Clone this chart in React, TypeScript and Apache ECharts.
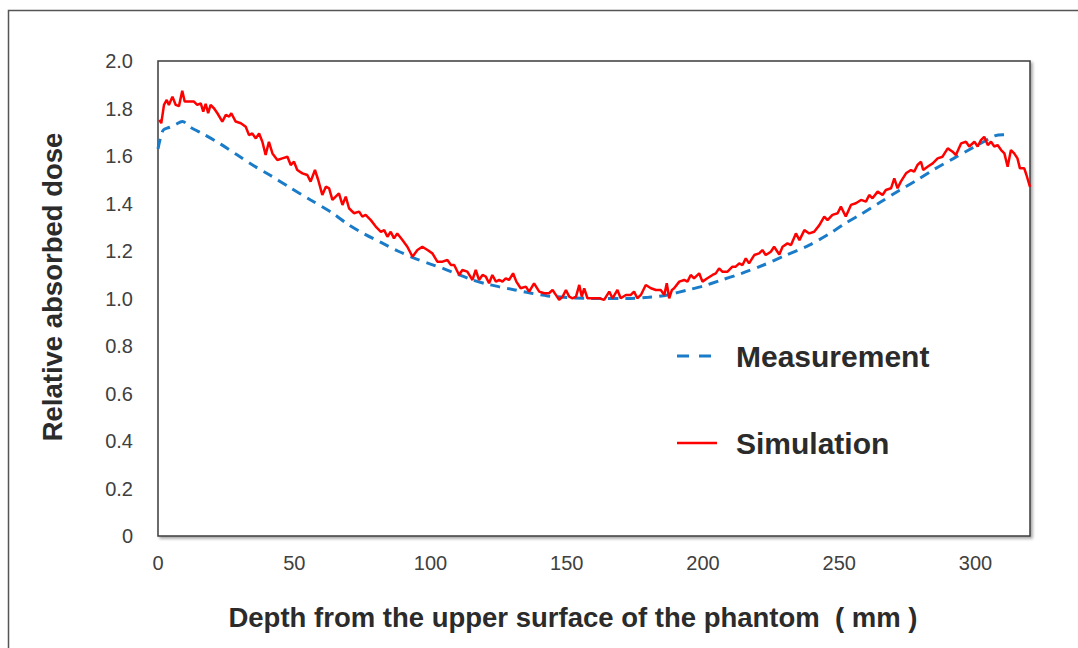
import React, { useEffect, useRef } from "react";
import * as echarts from "echarts";

// Depth (mm) and relative dose for the measured profile
const measDepth = [0, 1, 2, 4, 6, 9, 12, 17, 23, 29, 35, 41, 48, 56, 64, 70, 76, 82, 88, 94, 100, 105, 110, 115, 120, 125, 131, 137, 143, 150, 156, 163, 172, 180, 187, 194, 200, 206, 214, 222, 230, 239, 246, 252, 258, 265, 272, 278, 285, 292, 299, 303, 307, 310, 313];
const measDose = [1.63, 1.68, 1.71, 1.72, 1.73, 1.745, 1.72, 1.69, 1.65, 1.605, 1.56, 1.52, 1.47, 1.415, 1.36, 1.31, 1.27, 1.235, 1.2, 1.17, 1.145, 1.125, 1.102, 1.08, 1.063, 1.05, 1.036, 1.022, 1.011, 1.004, 1.001, 1.0, 1.0, 1.005, 1.015, 1.035, 1.052, 1.075, 1.105, 1.14, 1.18, 1.225, 1.27, 1.315, 1.355, 1.405, 1.455, 1.495, 1.545, 1.59, 1.635, 1.66, 1.685, 1.69, 1.69];

// Depth (mm) and relative dose for the simulated profile
const simDepth = [0.5, 1.2, 2.2, 3.2, 4.0, 5.3, 6.5, 7.7, 8.9, 9.8, 11.4, 13.2, 14.4, 15.7, 16.6, 17.5, 18.4, 19.3, 20.6, 21.8, 23.6, 24.9, 26.1, 26.9, 28.5, 30.4, 32.2, 33.4, 34.6, 35.9, 37.1, 38.3, 39.5, 40.7, 42.0, 43.8, 45.6, 47.5, 48.7, 49.9, 51.1, 53.0, 54.8, 56.0, 57.6, 58.8, 60.3, 61.6, 62.8, 64.0, 65.2, 66.4, 67.7, 68.9, 70.1, 71.9, 73.8, 75.0, 76.2, 78.1, 79.9, 81.8, 83.0, 84.2, 85.4, 86.6, 87.8, 89.7, 91.5, 93.4, 95.2, 97.0, 98.9, 100.7, 102.5, 104.4, 106.2, 107.5, 108.7, 110.5, 111.7, 113.5, 115.4, 116.6, 117.8, 119.1, 120.3, 121.5, 122.7, 124.0, 125.2, 126.4, 127.6, 128.8, 130.3, 131.5, 133.1, 135.0, 136.2, 138.0, 139.9, 141.7, 143.5, 144.8, 146.0, 147.2, 148.5, 149.7, 150.9, 152.1, 153.4, 154.6, 155.5, 156.4, 157.6, 159.4, 161.9, 163.7, 165.6, 166.8, 168.6, 169.8, 171.7, 173.5, 174.7, 175.9, 177.2, 179.0, 180.9, 182.7, 184.5, 185.8, 186.7, 187.6, 188.6, 189.4, 191.3, 193.1, 194.3, 195.5, 196.7, 198.6, 199.8, 201.6, 203.5, 204.7, 205.9, 207.1, 209.0, 210.8, 212.0, 213.3, 214.5, 215.7, 216.9, 218.8, 220.6, 221.8, 223.0, 224.9, 226.1, 228.0, 229.2, 231.0, 232.3, 234.1, 235.4, 237.2, 239.0, 240.8, 242.7, 244.5, 245.7, 247.5, 249.4, 250.6, 252.4, 254.3, 256.1, 258.0, 259.8, 261.0, 262.2, 264.1, 265.9, 267.1, 269.0, 270.2, 271.4, 272.6, 274.5, 276.3, 277.5, 278.7, 280.0, 280.8, 282.4, 284.3, 286.1, 287.9, 289.8, 291.6, 292.8, 294.7, 296.5, 297.7, 299.6, 300.8, 302.0, 303.2, 304.5, 305.7, 306.9, 308.1, 309.4, 310.6, 311.8, 313.0, 314.2, 315.4, 316.3, 317.9, 318.7, 320.0];
const simDose = [1.752, 1.738, 1.815, 1.836, 1.815, 1.85, 1.815, 1.81, 1.875, 1.829, 1.829, 1.829, 1.815, 1.822, 1.787, 1.82, 1.78, 1.815, 1.8, 1.78, 1.745, 1.773, 1.766, 1.78, 1.745, 1.738, 1.723, 1.688, 1.695, 1.674, 1.695, 1.66, 1.604, 1.66, 1.611, 1.583, 1.59, 1.597, 1.562, 1.576, 1.541, 1.527, 1.52, 1.492, 1.541, 1.499, 1.436, 1.471, 1.464, 1.415, 1.429, 1.443, 1.394, 1.429, 1.38, 1.359, 1.366, 1.345, 1.352, 1.33, 1.303, 1.281, 1.288, 1.26, 1.281, 1.253, 1.274, 1.246, 1.218, 1.176, 1.204, 1.218, 1.204, 1.19, 1.155, 1.155, 1.162, 1.141, 1.141, 1.099, 1.12, 1.113, 1.078, 1.12, 1.078, 1.099, 1.092, 1.064, 1.099, 1.071, 1.078, 1.071, 1.085, 1.078, 1.106, 1.071, 1.043, 1.05, 1.029, 1.064, 1.029, 1.022, 1.022, 1.036, 1.015, 0.994, 1.008, 1.036, 1.008, 1.001, 1.008, 1.057, 1.008, 1.043, 1.001, 1.001, 1.001, 0.994, 1.029, 1.001, 1.036, 1.001, 1.015, 1.015, 1.029, 1.001, 1.015, 1.057, 1.043, 1.036, 1.036, 1.015, 1.064, 1.001, 1.036, 1.043, 1.071, 1.078, 1.071, 1.099, 1.085, 1.106, 1.071, 1.085, 1.099, 1.106, 1.127, 1.113, 1.113, 1.134, 1.134, 1.148, 1.141, 1.169, 1.148, 1.183, 1.19, 1.204, 1.183, 1.197, 1.218, 1.185, 1.218, 1.232, 1.225, 1.274, 1.246, 1.288, 1.274, 1.281, 1.309, 1.345, 1.33, 1.352, 1.359, 1.387, 1.345, 1.394, 1.401, 1.415, 1.408, 1.436, 1.422, 1.45, 1.436, 1.457, 1.464, 1.506, 1.464, 1.492, 1.527, 1.541, 1.534, 1.562, 1.576, 1.541, 1.555, 1.569, 1.59, 1.597, 1.632, 1.618, 1.604, 1.653, 1.66, 1.64, 1.66, 1.64, 1.667, 1.681, 1.646, 1.66, 1.64, 1.646, 1.625, 1.611, 1.555, 1.625, 1.611, 1.59, 1.548, 1.548, 1.52, 1.47];

const seriesNames = ["Measurement", "Simulation"];
const xTitle = "Depth from the upper surface of the phantom  ( mm )";
const yTitle = "Relative absorbed dose";

const FONT = '"Liberation Sans", Arial, sans-serif';
const BLUE = "#1a7cc8";
const RED = "#ff0000";
const TITLE_COLOR = "#2b2b2b";

function pairs(xs: number[], ys: number[]) {
  return xs.map((x, i) => [x, ys[i]]);
}

export default function App() {
  const ref = useRef<HTMLDivElement>(null);

  useEffect(() => {
    if (!ref.current) return;
    const chart = echarts.init(ref.current, null, { renderer: "svg" });

    const legendText = (name: string, y: number) => ({
      type: "text",
      x: 736,
      y,
      style: {
        text: name,
        fontSize: 30,
        fontWeight: "bold",
        fontFamily: FONT,
        fill: TITLE_COLOR,
        align: "left",
        verticalAlign: "middle",
      },
    });

    chart.setOption({
      animation: false,
      backgroundColor: "#ffffff",
      grid: {
        left: 158,
        top: 61,
        right: 48,
        bottom: 112,
        show: true,
        backgroundColor: "#ffffff",
        borderColor: "#3c3c3c",
        borderWidth: 1.5,
        shadowColor: "rgba(0,0,0,0.35)",
        shadowBlur: 3,
        shadowOffsetX: 2,
        shadowOffsetY: 2,
      },
      xAxis: {
        type: "value",
        min: 0,
        max: 320,
        interval: 50,
        axisLine: { show: false },
        axisTick: { show: false },
        splitLine: { show: false },
        axisLabel: {
          showMaxLabel: false,
          margin: 17,
          fontSize: 20,
          color: "#404040",
          fontFamily: FONT,
        },
      },
      yAxis: {
        type: "value",
        min: 0,
        max: 2,
        interval: 0.2,
        axisLine: { show: false },
        axisTick: { show: false },
        splitLine: { show: false },
        axisLabel: {
          margin: 25,
          fontSize: 20,
          color: "#404040",
          fontFamily: FONT,
          formatter: (v: number) => (v === 0 ? "0" : v.toFixed(1)),
        },
      },
      graphic: [
        {
          type: "rect",
          shape: { x: 8.5, y: 10.5, width: 1200, height: 800 },
          style: { fill: "none", stroke: "#555555", lineWidth: 1.5 },
          silent: true,
        },
        {
          type: "text",
          x: 52,
          y: 287,
          rotation: Math.PI / 2,
          style: {
            text: yTitle,
            fontSize: 27.5,
            fontWeight: "bold",
            fontFamily: FONT,
            fill: TITLE_COLOR,
            align: "center",
            verticalAlign: "middle",
          },
        },
        {
          type: "text",
          x: 573,
          y: 617,
          style: {
            text: xTitle,
            fontSize: 27.5,
            fontWeight: "bold",
            fontFamily: FONT,
            fill: TITLE_COLOR,
            align: "center",
            verticalAlign: "middle",
          },
        },
        // legend keys
        {
          type: "line",
          shape: { x1: 677, y1: 356, x2: 711, y2: 356 },
          style: { stroke: BLUE, lineWidth: 3, lineDash: [12, 10] },
        },
        legendText(seriesNames[0], 356),
        {
          type: "line",
          shape: { x1: 677, y1: 443, x2: 717, y2: 443 },
          style: { stroke: RED, lineWidth: 2.5 },
        },
        legendText(seriesNames[1], 443),
      ],
      series: [
        {
          name: seriesNames[0],
          type: "line",
          data: pairs(measDepth, measDose),
          showSymbol: false,
          symbol: "none",
          smooth: 0.3,
          z: 2,
          lineStyle: { color: BLUE, width: 3, type: [10, 7] },
          itemStyle: { color: BLUE },
        },
        {
          name: seriesNames[1],
          type: "line",
          data: pairs(simDepth, simDose),
          showSymbol: false,
          symbol: "none",
          z: 3,
          lineStyle: { color: RED, width: 2.5 },
          itemStyle: { color: RED },
        },
      ],
    });
    return () => chart.dispose();
  }, []);

  return (
    <div
      ref={ref}
      style={{ position: "fixed", left: 0, top: 0, width: 1078, height: 648, background: "#fff" }}
    />
  );
}
